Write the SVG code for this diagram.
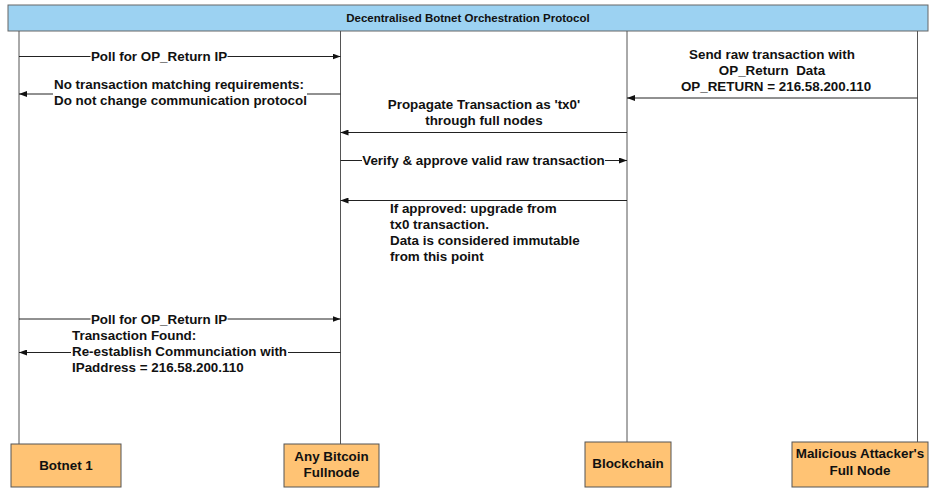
<svg xmlns="http://www.w3.org/2000/svg" width="934" height="489" viewBox="0 0 934 489">
<defs>
<marker id="ah" markerUnits="userSpaceOnUse" markerWidth="8" markerHeight="6" refX="8" refY="3" orient="auto">
<path d="M0,0 L8,3 L0,6 z" fill="#111"/>
</marker>
<style>
.t{font-family:"Liberation Sans",Arial,sans-serif;font-weight:bold;font-size:13.4px;fill:#111}
.c{text-anchor:middle}
.life{stroke:#555;stroke-width:1;fill:none}
.msg{stroke:#222;stroke-width:1;fill:none;marker-end:url(#ah)}
.box{fill:#FFC374;stroke:#555;stroke-width:1}
.bg{fill:#fff}
</style>
</defs>
<rect width="934" height="489" fill="#fff"/>
<g id="title">
<rect x="8" y="5" width="920" height="26" fill="#9CD2F2" stroke="#666" stroke-width="1"/>
<text class="t c" x="468" y="21.5" style="font-size:11.5px">Decentralised Botnet Orchestration Protocol</text>
</g>
<g id="lifelines">
<line class="life" x1="19" y1="31" x2="19" y2="444"/>
<line class="life" x1="340.5" y1="31" x2="340.5" y2="444"/>
<line class="life" x1="627" y1="31" x2="627" y2="442"/>
<line class="life" x1="917.5" y1="31" x2="917.5" y2="442"/>
</g>
<g id="connectors">
<line class="msg" x1="19" y1="56.5" x2="340.5" y2="56.5"/>
<line class="msg" x1="340.5" y1="94" x2="19" y2="94"/>
<line class="msg" x1="917.5" y1="98" x2="627" y2="98"/>
<line class="msg" x1="627" y1="132.5" x2="340.5" y2="132.5"/>
<line class="msg" x1="340.5" y1="160.5" x2="627" y2="160.5"/>
<line class="msg" x1="627" y1="200.5" x2="340.5" y2="200.5"/>
<line class="msg" x1="19" y1="319" x2="340.5" y2="319"/>
<line class="msg" x1="340.5" y1="352.5" x2="19" y2="352.5"/>
</g>
<g id="labels">
<rect class="bg" x="90.5" y="49" width="137" height="15"/>
<text class="t c" x="159" y="61">Poll for OP_Return IP</text>
<rect class="bg" x="53" y="78" width="254" height="30"/>
<text class="t" x="54" y="88.5">No transaction matching requirements:</text>
<text class="t" x="54" y="104.5">Do not change communication protocol</text>
<text class="t c" x="772" y="59">Send raw transaction with</text>
<text class="t c" x="772" y="75" xml:space="preserve">OP_Return  Data</text>
<text class="t c" x="776" y="91">OP_RETURN = 216.58.200.110</text>
<text class="t c" x="484" y="109">Propagate Transaction as 'tx0'</text>
<text class="t c" x="484" y="125">through full nodes</text>
<rect class="bg" x="362" y="152" width="243" height="16"/>
<text class="t c" x="483.5" y="165">Verify &amp; approve valid raw transaction</text>
<text class="t" x="390" y="213">If approved: upgrade from</text>
<text class="t" x="390" y="229">tx0 transaction.</text>
<text class="t" x="390" y="245">Data is considered immutable</text>
<text class="t" x="390" y="261">from this point</text>
<rect class="bg" x="90.5" y="311" width="137" height="15"/>
<text class="t c" x="159" y="323.5">Poll for OP_Return IP</text>
<rect class="bg" x="71" y="328" width="217" height="47"/>
<text class="t" x="72" y="339.5">Transaction Found:</text>
<text class="t" x="72" y="356">Re-establish Communciation with</text>
<text class="t" x="72" y="372">IPaddress = 216.58.200.110</text>
</g>
<g id="botnet1">
<rect class="box" x="11" y="444" width="110" height="43"/>
<text class="t c" x="66" y="469.5">Botnet 1</text>
</g>
<g id="fullnode">
<rect class="box" x="284" y="444" width="95" height="43"/>
<text class="t c" x="331.5" y="461">Any Bitcoin</text>
<text class="t c" x="331.5" y="477">Fullnode</text>
</g>
<g id="blockchain">
<rect class="box" x="585" y="442" width="86" height="45"/>
<text class="t c" x="628" y="468">Blockchain</text>
</g>
<g id="attacker">
<rect class="box" x="792" y="442" width="136" height="45"/>
<text class="t c" x="860" y="458">Malicious Attacker's</text>
<text class="t c" x="860" y="474.5">Full Node</text>
</g>
</svg>
